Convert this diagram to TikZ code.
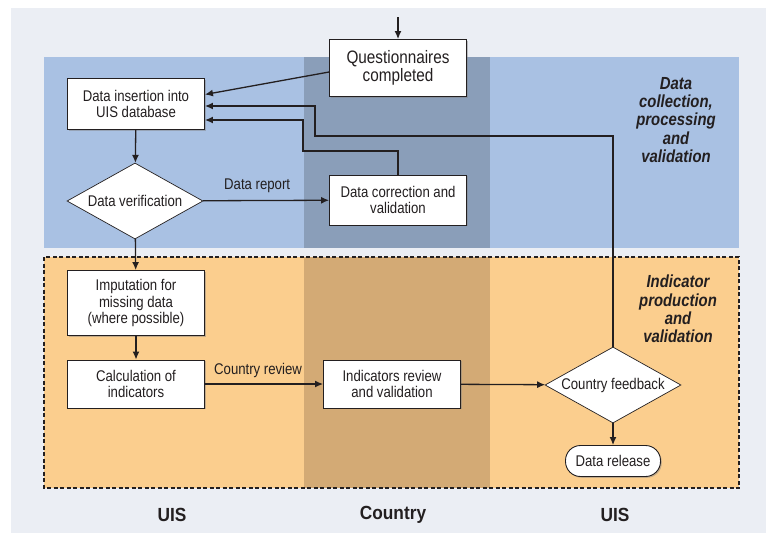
\documentclass[tikz,border=0pt]{standalone}
\usepackage{fontspec}
\setmainfont{Liberation Sans}[FakeStretch=0.85]
\newfontfamily\lanefont{Liberation Sans}[FakeStretch=0.91]
\usetikzlibrary{shapes.geometric,arrows.meta,shadows}
\definecolor{pagebg}{HTML}{EBEEF4}
\definecolor{bandblue}{HTML}{A9C1E3}
\definecolor{colblue}{HTML}{8A9EB9}
\definecolor{bandorange}{HTML}{FBCE8E}
\definecolor{colorange}{HTML}{D3AA75}
\definecolor{inkline}{HTML}{231F20}
\tikzset{
stepbox/.style={draw=inkline, fill=white, line width=0.9pt, align=center,
  minimum width=137pt, inner sep=2pt, text=inkline,
  font=\fontsize{15.5}{16.7}\selectfont,
  drop shadow={shadow xshift=1.3pt, shadow yshift=-1.3pt, opacity=0.45}},
decision/.style={diamond, draw=inkline, fill=white, line width=0.7pt,
  aspect=1.8, minimum width=136pt, minimum height=76pt, inner sep=0pt,
  text=inkline, font=\fontsize{15.5}{16.7}\selectfont},
flow/.style={draw=inkline, line width=1.3pt, -{Latex[length=8pt,width=7pt]}},
flowlabel/.style={text=inkline, font=\fontsize{15.5}{16.7}\selectfont},
bandlabel/.style={text=inkline, align=center,
  font=\fontsize{17.5}{18.3}\selectfont\bfseries\itshape},
lanelabel/.style={text=inkline, font=\lanefont\fontsize{19}{21}\selectfont\bfseries}
}
\begin{document}
\begin{tikzpicture}[x=1pt,y=-1pt]
\useasboundingbox (0,0) rectangle (766,533);

% background, bands and the country column
\fill[pagebg] (11,8) rectangle (766,533);
\fill[bandblue] (44,57) rectangle (739,248);
\fill[colblue] (304,57) rectangle (490,248);
\fill[bandorange] (44,257) rectangle (739,488);
\fill[colorange] (304,257) rectangle (490,488);
\draw[inkline, line width=1.1pt, dash pattern=on 4pt off 2.5pt] (44,257) rectangle (739,488);

\node[bandlabel] (collect) at (676,120) {Data\\collection,\\processing\\and\\validation};
\node[bandlabel] (produce) at (678,309) {Indicator\\production\\and\\validation};

\node[lanelabel] (uisleft) at (172,515) {UIS};
\node[lanelabel] (country) at (393,515) {Country};
\node[lanelabel] (uisright) at (615,515) {UIS};

% steps
\node[stepbox, minimum height=57pt, font=\fontsize{18}{15.7}\selectfont] (quest) at (398,68) {Questionnaires\\completed};
\node[stepbox, minimum height=51pt] (insert) at (136,104) {Data insertion into\\UIS database};
\node[decision] (verify) at (135,201) {Data verification};
\node[stepbox, minimum height=50pt] (correct) at (398,200) {Data correction and\\validation};
\node[stepbox, minimum height=65pt] (impute) at (136,303) {Imputation for\\missing data\\(where possible)};
\node[stepbox, minimum height=48pt] (calc) at (136,384) {Calculation of\\indicators};
\node[stepbox, minimum height=48pt] (review) at (392,384) {Indicators review\\and validation};
\node[decision] (feedback) at (613,385) {Country feedback};
\node[stepbox, rounded corners=15pt, minimum width=95pt, minimum height=31pt] (release) at (613,461) {Data release};

% connectors
\coordinate (entry) at (398,17);
\draw[flow] (entry) -- (quest.north);
\draw[flow] ([yshift=-4pt]quest.west) -- ([yshift=9.5pt]insert.east);
\draw[flow] (feedback.north) |- (315,136) |- ([yshift=-2pt]insert.east);
\draw[flow] (correct.north) |- (303,151) |- ([yshift=-16pt]insert.east);
\draw[flow] (insert) -- (verify);
\draw[flow] (verify) -- node[flowlabel, pos=0.43, above=4pt] {Data report} (correct);
\draw[flow] (verify) -- (impute);
\draw[flow] (impute) -- (calc);
\draw[flow] (calc) -- node[flowlabel, pos=0.45, above=2pt] {Country review} (review);
\draw[flow] (review) -- (feedback);
\draw[flow] (feedback) -- (release);
\end{tikzpicture}
\end{document}
